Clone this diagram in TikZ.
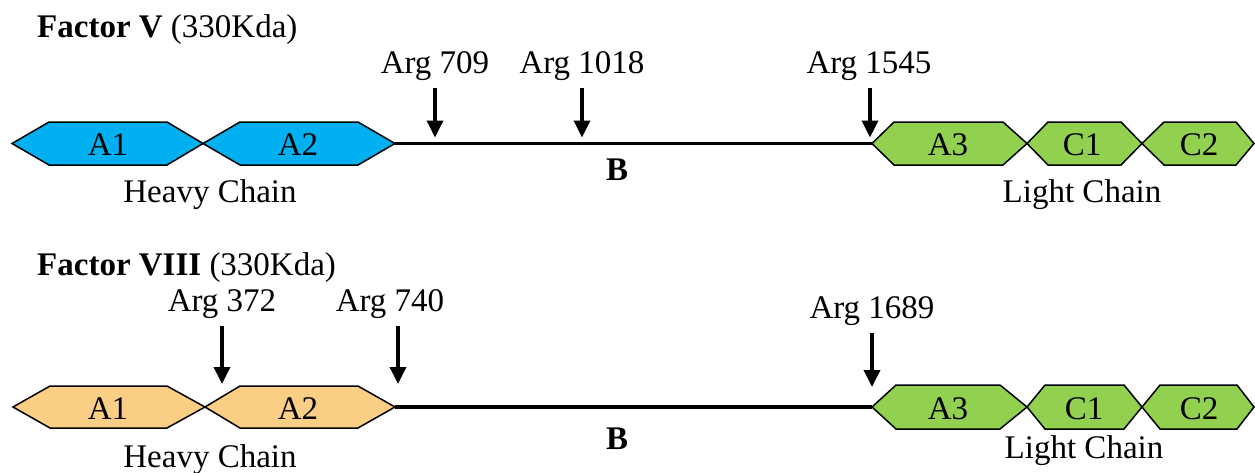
\documentclass[tikz,border=0pt]{standalone}
\usepackage{fontspec}
\setmainfont{Liberation Serif}
\usetikzlibrary{arrows.meta}
\definecolor{fvblue}{RGB}{0,176,240}
\definecolor{lcgreen}{RGB}{146,208,80}
\definecolor{fviiiorange}{RGB}{250,207,133}
\tikzset{
  domainhex/.style={draw=black, line width=1.5pt, line join=miter},
  chainline/.style={line width=3.5pt},
  cleave/.style={line width=3.5pt, -{Triangle[width=16pt,length=17pt]}, shorten <=8pt, shorten >=6pt},
  txt/.style={inner sep=0pt, anchor=base},
}
\begin{document}
\begin{tikzpicture}[x=1pt,y=-1pt,font=\fontsize{33}{40}\selectfont]
\useasboundingbox (0,0) rectangle (1255,472);
% Factor V
\node[txt, anchor=base west] (titleV) at (37,37) {\textbf{Factor V} (330Kda)};
\draw[domainhex, fill=fvblue] (12,143.5) -- (49,122) -- (167,122) -- (203,143.5) -- (167,165) -- (49,165) -- cycle;
\draw[domainhex, fill=fvblue] (203,143.5) -- (240,122) -- (358,122) -- (395,143.5) -- (358,165) -- (240,165) -- cycle;
\draw[domainhex, fill=lcgreen] (872,143.5) -- (894,122) -- (1003,122) -- (1027,143.5) -- (1003,165) -- (894,165) -- cycle;
\draw[domainhex, fill=lcgreen] (1027,143.5) -- (1048,122) -- (1121,122) -- (1142,143.5) -- (1121,165) -- (1048,165) -- cycle;
\draw[domainhex, fill=lcgreen] (1142,143.5) -- (1164,122) -- (1236,122) -- (1254,143.5) -- (1236,165) -- (1164,165) -- cycle;
\node[txt] (vA1) at (108,155) {A1};
\node[txt] (vA2) at (298,155) {A2};
\node[txt] (vA3) at (948,155) {A3};
\node[txt] (vC1) at (1082,155) {C1};
\node[txt] (vC2) at (1199,155) {C2};
\coordinate (vBl) at (395,143.5);
\coordinate (vBr) at (872,143.5);
\draw[chainline] (vBl) -- (vBr);
\node[txt] (vB) at (617,180) {\textbf{B}};
\node[txt] (vheavy) at (210,202) {Heavy Chain};
\node[txt] (vlight) at (1082,202) {Light Chain};
\node[txt] (l709) at (435,73) {Arg 709};
\node[txt] (l1018) at (582,73) {Arg 1018};
\node[txt] (l1545) at (869,73) {Arg 1545};
\coordinate (c709) at (435,143.5);
\coordinate (c1018) at (582,143.5);
\coordinate (c1545) at (870,143.5);
\draw[cleave] (l709.south -| c709) -- (c709);
\draw[cleave] (l1018.south -| c1018) -- (c1018);
\draw[cleave] (l1545.south -| c1545) -- (c1545);
% Factor VIII
\node[txt, anchor=base west] (titleVIII) at (37,275) {\textbf{Factor VIII} (330Kda)};
\draw[domainhex, fill=fviiiorange] (13,407) -- (50,386) -- (167,386) -- (205,407) -- (167,428) -- (50,428) -- cycle;
\draw[domainhex, fill=fviiiorange] (205,407) -- (240,386) -- (358,386) -- (395,407) -- (358,428) -- (240,428) -- cycle;
\draw[domainhex, fill=lcgreen] (872,407) -- (896,385) -- (1000,385) -- (1027,407) -- (1000,429) -- (896,429) -- cycle;
\draw[domainhex, fill=lcgreen] (1027,407) -- (1045,385) -- (1124,385) -- (1142,407) -- (1124,429) -- (1045,429) -- cycle;
\draw[domainhex, fill=lcgreen] (1142,407) -- (1160,385) -- (1237,385) -- (1254,407) -- (1237,429) -- (1160,429) -- cycle;
\node[txt] (viiiA1) at (108,419) {A1};
\node[txt] (viiiA2) at (298,419) {A2};
\node[txt] (viiiA3) at (948,419) {A3};
\node[txt] (viiiC1) at (1084,419) {C1};
\node[txt] (viiiC2) at (1199,419) {C2};
\coordinate (viiiBl) at (395,407);
\coordinate (viiiBr) at (872,407);
\draw[chainline] (viiiBl) -- (viiiBr);
\node[txt] (viiiB) at (617,449) {\textbf{B}};
\node[txt] (viiiheavy) at (210,467) {Heavy Chain};
\node[txt] (viiilight) at (1084,458) {Light Chain};
\node[txt] (l372) at (222,311) {Arg 372};
\node[txt] (l740) at (390,311) {Arg 740};
\node[txt] (l1689) at (872,318) {Arg 1689};
\coordinate (c372) at (222,390);
\coordinate (c740) at (398,390);
\coordinate (c1689) at (872,393);
\draw[cleave] (l372.south -| c372) -- (c372);
\draw[cleave] (l740.south -| c740) -- (c740);
\draw[cleave] (l1689.south -| c1689) -- (c1689);
\end{tikzpicture}
\end{document}
